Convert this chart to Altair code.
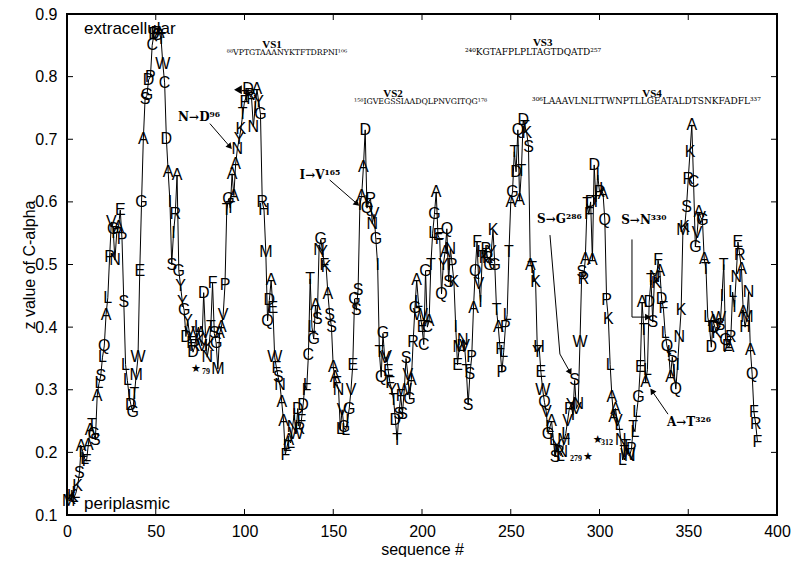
import math
import altair as alt
import pandas as pd

# ---------------- residue letters (one per residue, 1..389) ----------------
aa_001_087 = "MKKLLKSALLFAATGSALSLQALPVGNPAEPSLLIDGTMWEGASGDPCDPCATWCDAISIRAGYYGDYVFDRVLKVDVNKTFSGMAA"
aa_vs1 = "VPTGTAAANYKTFTDRPNI"
aa_107_157 = "AYGRHMQDAEWFSNAAFLALNIWDRFDIFCTLGASNGYFKASSAAFNLVGL"
aa_vs2 = "IGVEGSSIAADQLPNVGITQG"
aa_179_239 = "VVEFYTDTSFSWSVGARGALWECGCATLGAEFQYAQSNPKIEMLNVTSSPAQFVIHKPRGY"
aa_vs3 = "KGTAFPLPLTAGTDQATD"
aa_258_305 = "TKSATIKYHEWQVGLALSYRLNMLVPYISVNWSRATFDADTIRIAQPK"
aa_vs4 = "LAAAVLNLTTWNPTLLGEATALDTSNKFADFL"
aa_338_389 = "QIASIQINKMKSRKACGVAVGATLIDADKWSITGEARLINERAAHMNAQFRF"

# ---------------- z value of C-alpha ----------------
z_001_087 = [0.122, 0.125, 0.130, 0.128, 0.135, 0.147, 0.167, 0.210, 0.200, 0.190,
             0.186, 0.212, 0.236, 0.243, 0.230, 0.220, 0.290, 0.310, 0.322, 0.352,
             0.370, 0.420, 0.447, 0.512, 0.568, 0.557, 0.507, 0.550, 0.560, 0.587,
             0.540, 0.440, 0.340, 0.315, 0.290, 0.276, 0.265, 0.293, 0.324, 0.352,
             0.490, 0.600, 0.700, 0.765, 0.770, 0.795, 0.800, 0.850, 0.868, 0.870,
             0.866, 0.870, 0.860, 0.820, 0.790, 0.700, 0.648, 0.600, 0.500, 0.550,
             0.580, 0.643, 0.490, 0.465, 0.440, 0.427, 0.385, 0.410, 0.390, 0.375,
             0.360, 0.370, 0.390, 0.400, 0.380, 0.370, 0.455, 0.390, 0.352, 0.370,
             0.400, 0.470, 0.390, 0.375, 0.333, 0.390, 0.400]
z_vs1 = [0.420, 0.467, 0.587, 0.605, 0.590, 0.645, 0.610, 0.660, 0.685, 0.700,
         0.717, 0.740, 0.760, 0.768, 0.780, 0.770, 0.765, 0.720, 0.750]
z_107_157 = [0.780, 0.760, 0.740, 0.600, 0.587, 0.520, 0.410, 0.443, 0.475, 0.430,
             0.352, 0.335, 0.320, 0.307, 0.280, 0.250, 0.196, 0.210, 0.220, 0.215,
             0.240, 0.260, 0.230, 0.270, 0.237, 0.250, 0.275, 0.307, 0.300, 0.355,
             0.477, 0.400, 0.381, 0.435, 0.413, 0.523, 0.540, 0.520, 0.500, 0.496,
             0.453, 0.420, 0.400, 0.336, 0.320, 0.310, 0.300, 0.237, 0.268, 0.240,
             0.235]
z_vs2 = [0.250, 0.270, 0.300, 0.340, 0.445, 0.427, 0.460, 0.595, 0.610, 0.656,
         0.715, 0.590, 0.600, 0.605, 0.565, 0.580, 0.540, 0.500, 0.360, 0.320,
         0.390]
z_179_239 = [0.350, 0.352, 0.330, 0.310, 0.300, 0.284, 0.252, 0.220, 0.262, 0.290,
             0.262, 0.300, 0.350, 0.324, 0.285, 0.316, 0.376, 0.430, 0.475, 0.440,
             0.420, 0.400, 0.372, 0.490, 0.400, 0.410, 0.500, 0.550, 0.580, 0.616,
             0.547, 0.540, 0.453, 0.500, 0.520, 0.557, 0.472, 0.525, 0.500, 0.472,
             0.400, 0.340, 0.368, 0.370, 0.380, 0.370, 0.330, 0.276, 0.325, 0.352,
             0.430, 0.490, 0.536, 0.469, 0.440, 0.520, 0.510, 0.525, 0.510, 0.500,
             0.520]
z_vs3 = [0.555, 0.500, 0.427, 0.400, 0.365, 0.328, 0.360, 0.400, 0.420, 0.520,
         0.600, 0.616, 0.680, 0.648, 0.715, 0.603, 0.650, 0.730]
z_258_305 = [0.720, 0.710, 0.688, 0.500, 0.495, 0.480, 0.472, 0.360, 0.368, 0.328,
             0.300, 0.280, 0.265, 0.230, 0.240, 0.250, 0.220, 0.193, 0.210, 0.200,
             0.195, 0.200, 0.220, 0.230, 0.250, 0.270, 0.276, 0.260, 0.315, 0.270,
             0.277, 0.376, 0.488, 0.477, 0.509, 0.597, 0.580, 0.600, 0.507, 0.659,
             0.600, 0.643, 0.616, 0.620, 0.613, 0.571, 0.443, 0.413]
z_vs4 = [0.340, 0.289, 0.256, 0.270, 0.250, 0.244, 0.220, 0.188, 0.200, 0.210,
         0.196, 0.195, 0.205, 0.240, 0.233, 0.265, 0.289, 0.336, 0.440, 0.395,
         0.312, 0.332, 0.440, 0.475, 0.408, 0.480, 0.470, 0.507, 0.490, 0.445,
         0.430, 0.390]
z_338_389 = [0.370, 0.360, 0.320, 0.352, 0.330, 0.301, 0.340, 0.385, 0.427, 0.555,
             0.560, 0.592, 0.637, 0.680, 0.723, 0.632, 0.528, 0.550, 0.584, 0.575,
             0.571, 0.509, 0.493, 0.416, 0.400, 0.368, 0.410, 0.400, 0.390, 0.414,
             0.403, 0.450, 0.500, 0.380, 0.370, 0.368, 0.385, 0.456, 0.432, 0.480,
             0.536, 0.515, 0.493, 0.424, 0.400, 0.416, 0.456, 0.364, 0.325, 0.265,
             0.245, 0.217]

# ---------------- axes ----------------
x_ticks = [0, 50, 100, 150, 200, 250, 300, 350, 400]
y_ticks = [0.1, 0.2, 0.3, 0.4, 0.5, 0.6, 0.7, 0.8, 0.9]

# ---------------- annotations ----------------
region_labels = ["extracellular", "periplasmic"]
region_seq = [9.6, 9.6]
region_z = [0.8686, 0.109]

vs_titles = ["VS1", "VS2", "VS3", "VS4"]
vs_title_seq = [115.5, 183.7, 268.0, 329.6]
vs_title_z = [0.846, 0.768, 0.849, 0.768]
vs_texts = ["\u2078\u2078VPTGTAAANYKTFTDRPNI\u00b9\u2070\u2076",
            "\u00b9\u2075\u2078IGVEGSSIAADQLPNVGITQG\u00b9\u2077\u2078",
            "\u00b2\u2074\u2070KGTAFPLPLTAGTDQATD\u00b2\u2075\u2077",
            "\u00b3\u2070\u2076LAAAVLNLTTWNPTLLGEATALDTSNKFADFL\u00b3\u00b3\u2077"]
vs_text_seq = [90.0, 161.7, 224.2, 262.0]
vs_text_z = [0.835, 0.757, 0.835, 0.757]
vs_text_size = [7.8, 7.8, 9, 9]

mut_labels = ["N\u2192D\u2079\u2076", "I\u2192V\u00b9\u2076\u2075", "S\u2192G\u00b2\u2078\u2076",
              "S\u2192N\u00b3\u00b3\u2070", "A\u2192T\u00b3\u00b2\u2076"]
mut_seq = [62.6, 131.0, 264.8, 312.2, 338.0]
mut_z = [0.736, 0.643, 0.573, 0.571, 0.249]

arrow_paths = [
    [(80.5, 0.725), (91.8, 0.688)],
    [(148.0, 0.635), (163.4, 0.597)],
    [(272.1, 0.547), (277.7, 0.357), (283.4, 0.328)],
    [(318.3, 0.540), (318.3, 0.416), (327.3, 0.416)],
    [(338.6, 0.261), (329.6, 0.298)],
]

star_seq = [72.7, 293.5, 299.0]
star_z = [0.333, 0.193, 0.220]
star_nums = ["79", "279", "312"]
star_num_seq = [78.3, 286.8, 304.2]
star_num_z = [0.328, 0.189, 0.215]

marker_seq = [96.3]
marker_z = [0.779]

# ---------------- build tables ----------------
aa_all = (aa_001_087 + aa_vs1 + aa_107_157 + aa_vs2 + aa_179_239 + aa_vs3
          + aa_258_305 + aa_vs4 + aa_338_389)
z_all = (z_001_087 + z_vs1 + z_107_157 + z_vs2 + z_179_239 + z_vs3
         + z_258_305 + z_vs4 + z_338_389)
assert len(aa_all) == len(z_all) == 389
df = pd.DataFrame({"seq": list(range(1, len(aa_all) + 1)), "z": z_all, "aa": list(aa_all)})

W, H = 710, 501
PX_X = W / 400.0
PX_Y = H / 0.8

SANS = "Liberation Sans"
SERIF = "Liberation Serif"
SERIF_SUP = "DejaVu Serif"

xs = alt.Scale(domain=[0, 400], nice=False, zero=False)
ys = alt.Scale(domain=[0.1, 0.9], nice=False, zero=False)
xax = alt.Axis(values=x_ticks, grid=False, ticks=False, domain=False, labelFlush=False,
               labelFont=SANS, labelFontSize=16, labelColor="black", labelPadding=8,
               titleFont=SANS, titleFontSize=16, titleFontWeight="normal",
               titleColor="black", titlePadding=2)
yax = alt.Axis(values=y_ticks, format=".1f", grid=False, ticks=False, domain=False,
               labelFlush=False, labelFont=SANS, labelFontSize=16, labelColor="black",
               labelPadding=10, titleFont=SANS, titleFontSize=16,
               titleFontWeight="normal", titleColor="black", titleX=-30)


def X():
    return alt.X("seq:Q", scale=xs, axis=xax, title="sequence #")


def Y():
    return alt.Y("z:Q", scale=ys, axis=yax, title="z value of C-alpha")


line = alt.Chart(df).mark_line(color="black", strokeWidth=1).encode(x=X(), y=Y(), order="seq:Q")
letters = alt.Chart(df).mark_text(font=SANS, fontSize=16, color="black",
                                  baseline="middle", align="center").encode(
    x=X(), y=Y(), text="aa:N")

reg = pd.DataFrame({"seq": region_seq, "z": region_z, "t": region_labels})
regions = alt.Chart(reg).mark_text(font=SANS, fontSize=17, color="black",
                                   align="left", baseline="alphabetic").encode(
    x=X(), y=Y(), text="t:N")

vst = pd.DataFrame({"seq": vs_title_seq, "z": vs_title_z, "t": vs_titles})
vs_title_layer = alt.Chart(vst).mark_text(font=SERIF, fontSize=11, fontWeight="bold",
                                          color="black", align="center",
                                          baseline="alphabetic").encode(
    x=X(), y=Y(), text="t:N")

vss = pd.DataFrame({"seq": vs_text_seq, "z": vs_text_z, "t": vs_texts, "fs": vs_text_size})
vs_seq_layer = alt.Chart(vss).mark_text(font=SERIF_SUP, color="black", align="left",
                                        baseline="alphabetic").encode(
    x=X(), y=Y(), text="t:N", size=alt.Size("fs:Q", scale=None))

mt = pd.DataFrame({"seq": mut_seq, "z": mut_z, "t": mut_labels})
mut_layer = alt.Chart(mt).mark_text(font=SERIF_SUP, fontSize=12, fontWeight="bold",
                                    color="black", align="left",
                                    baseline="middle").encode(
    x=X(), y=Y(), text="t:N")

rows = []
heads = []
for i, path in enumerate(arrow_paths):
    for k, (s, z) in enumerate(path):
        rows.append({"id": i, "k": k, "seq": s, "z": z})
    (s1, z1), (s2, z2) = path[-2], path[-1]
    dx = (s2 - s1) * PX_X
    dy = -(z2 - z1) * PX_Y
    ang = math.degrees(math.atan2(dx, -dy)) % 360
    heads.append({"seq": s2, "z": z2, "ang": ang})
arrows = alt.Chart(pd.DataFrame(rows)).mark_line(color="black", strokeWidth=1).encode(
    x=X(), y=Y(), detail="id:N", order="k:Q")
arrow_heads = alt.Chart(pd.DataFrame(heads)).mark_point(
    shape="triangle-up", filled=True, color="black", size=45, opacity=1).encode(
    x=X(), y=Y(), angle=alt.Angle("ang:Q", scale=None))

st = pd.DataFrame({"seq": star_seq, "z": star_z, "t": ["\u2605"] * len(star_seq)})
stars = alt.Chart(st).mark_text(font="DejaVu Sans", fontSize=11, color="black",
                                baseline="middle", align="center").encode(
    x=X(), y=Y(), text="t:N")
sn = pd.DataFrame({"seq": star_num_seq, "z": star_num_z, "t": star_nums})
star_nums_layer = alt.Chart(sn).mark_text(font=SERIF, fontSize=8, fontWeight="bold",
                                          color="black", baseline="middle",
                                          align="center").encode(
    x=X(), y=Y(), text="t:N")

mk = pd.DataFrame({"seq": marker_seq, "z": marker_z})
marker = alt.Chart(mk).mark_point(shape="triangle-left", filled=True, color="black",
                                  size=80, opacity=1).encode(x=X(), y=Y())

xt = pd.DataFrame({"seq": x_ticks})
yt = pd.DataFrame({"z": y_ticks})
tick_b = alt.Chart(xt).mark_rule(color="black", strokeWidth=1).encode(
    x=X(), y=alt.value(H), y2=alt.value(H - 6))
tick_t = alt.Chart(xt).mark_rule(color="black", strokeWidth=1).encode(
    x=X(), y=alt.value(0), y2=alt.value(6))
tick_l = alt.Chart(yt).mark_rule(color="black", strokeWidth=1).encode(
    y=Y(), x=alt.value(0), x2=alt.value(6))
tick_r = alt.Chart(yt).mark_rule(color="black", strokeWidth=1).encode(
    y=Y(), x=alt.value(W), x2=alt.value(W - 6))

chart = alt.layer(
    line, letters, regions, vs_title_layer, vs_seq_layer, mut_layer,
    arrows, arrow_heads, stars, star_nums_layer, marker,
    tick_b, tick_t, tick_l, tick_r,
).properties(
    width=W, height=H,
    autosize=alt.AutoSizeParams(type="none"),
    padding={"left": 59, "top": 6, "right": 15, "bottom": 42},
    background="white",
).configure_view(stroke="black", strokeWidth=2)

chart.save("out.html", embed_options={"renderer": "svg", "actions": False})
